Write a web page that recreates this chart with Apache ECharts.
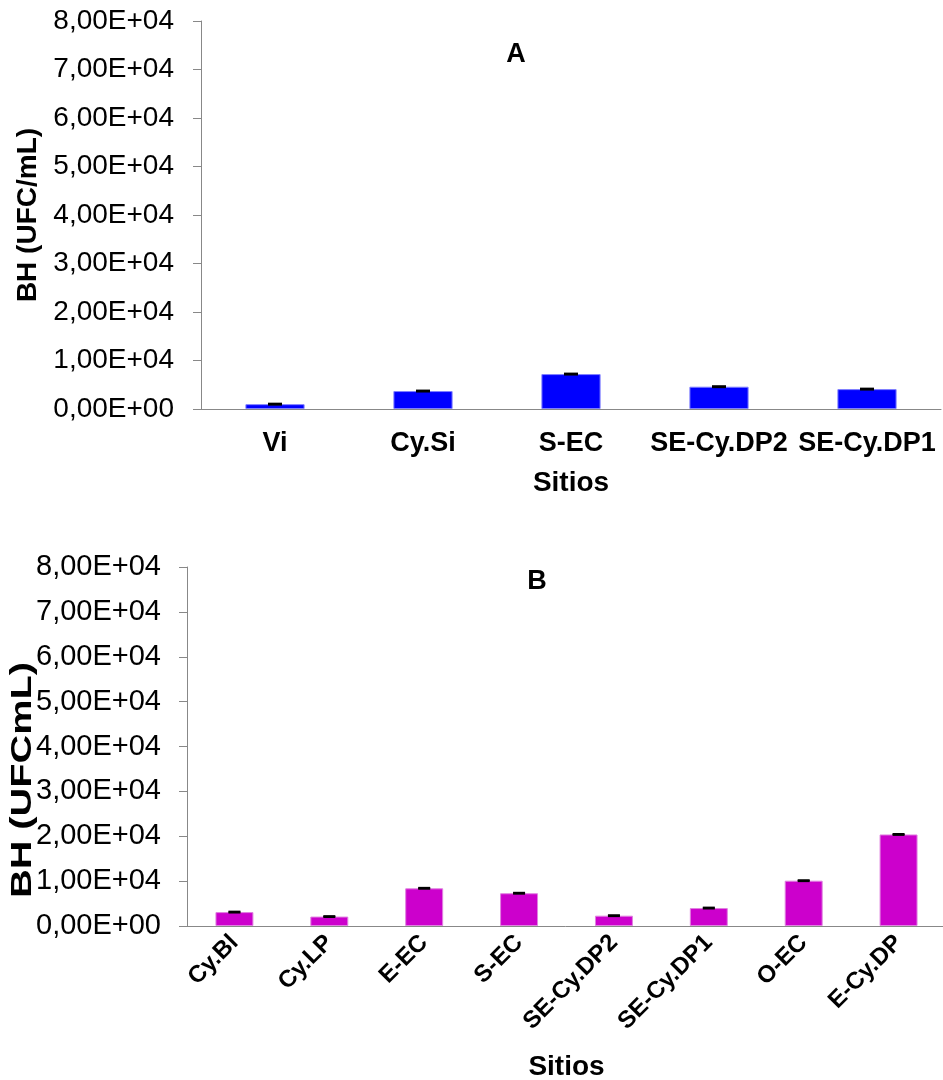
<!DOCTYPE html>
<html>
<head>
<meta charset="utf-8">
<script src="https://cdn.jsdelivr.net/npm/echarts@6/dist/echarts.min.js"></script>
<style>
  html, body { margin: 0; padding: 0; background: #fff; }
  #chart { width: 943px; height: 1080px; }
</style>
</head>
<body>
<div id="chart"></div>
<script>
// Panel A: bacterias heterótrofas por sitio
const sitesA = ['Vi', 'Cy.Si', 'S-EC', 'SE-Cy.DP2', 'SE-Cy.DP1'];
const valuesA = [1000, 3700, 7200, 4600, 4100];
const errorsA = [100, 100, 100, 100, 100];

// Panel B
const sitesB = ['Cy.Bl', 'Cy.LP', 'E-EC', 'S-EC', 'SE-Cy.DP2', 'SE-Cy.DP1', 'O-EC', 'E-Cy.DP'];
const valuesB = [3100, 2100, 8400, 7300, 2300, 4000, 10100, 20400];
const errorsB = [100, 100, 100, 100, 100, 100, 100, 100];

const FONT = '"Liberation Sans", Arial, sans-serif';
const AXIS_GRAY = '#888888';

// 80000 -> "8,00E+04"
function sciComma(v) {
  if (v === 0) return '0,00E+00';
  const exp = Math.floor(Math.log10(Math.abs(v)));
  const mant = (v / Math.pow(10, exp)).toFixed(2).replace('.', ',');
  const sign = exp < 0 ? '-' : '+';
  return mant + 'E' + sign + String(Math.abs(exp)).padStart(2, '0');
}

function errorRender(capHalf) {
  return function (params, api) {
    const x = api.value(0), y = api.value(1), e = api.value(2);
    const hi = api.coord([x, y + e]);
    const lo = api.coord([x, y - e]);
    const st = { stroke: '#000', lineWidth: 2 };
    return {
      type: 'group',
      children: [
        { type: 'line', shape: { x1: hi[0], y1: hi[1], x2: lo[0], y2: lo[1] }, style: st },
        { type: 'line', shape: { x1: hi[0] - capHalf, y1: hi[1], x2: hi[0] + capHalf, y2: hi[1] }, style: st },
        { type: 'line', shape: { x1: lo[0] - capHalf, y1: lo[1], x2: lo[0] + capHalf, y2: lo[1] }, style: st }
      ]
    };
  };
}

function yAxisCfg(gridIndex, fontSize, margin, extra) {
  return Object.assign({
    type: 'value',
    gridIndex: gridIndex,
    min: 0, max: 80000, interval: 10000,
    splitLine: { show: false },
    axisLine: { show: true, lineStyle: { color: AXIS_GRAY, width: 1 } },
    axisTick: { show: true, length: 8, lineStyle: { color: AXIS_GRAY } },
    axisLabel: { formatter: sciComma, color: '#000', fontFamily: FONT, fontSize: fontSize, margin: margin }
  }, extra || {});
}

const chart = echarts.init(document.getElementById('chart'), null, { renderer: 'canvas' });

chart.setOption({
  animation: false,
  backgroundColor: '#fff',
  title: [
    { text: 'A', left: 511, top: 36, textAlign: 'center',
      textStyle: { fontFamily: FONT, fontWeight: 'bold', fontSize: 27, color: '#000' } },
    { text: 'B', left: 532, top: 563, textAlign: 'center',
      textStyle: { fontFamily: FONT, fontWeight: 'bold', fontSize: 27, color: '#000' } }
  ],
  grid: [
    { left: 201, top: 21, width: 740, height: 388, containLabel: false, outerBoundsMode: 'none' },
    { left: 187, top: 567, width: 759, height: 359, containLabel: false, outerBoundsMode: 'none' }
  ],
  xAxis: [
    {
      type: 'category', gridIndex: 0, data: sitesA,
      name: 'Sitios', nameLocation: 'middle', nameGap: 60,
      nameTextStyle: { fontFamily: FONT, fontWeight: 'bold', fontSize: 28, color: '#000' },
      axisLine: { lineStyle: { color: AXIS_GRAY } },
      axisTick: { length: 8, lineStyle: { color: AXIS_GRAY } },
      axisLabel: { fontFamily: FONT, fontWeight: 'bold', fontSize: 27, color: '#000', margin: 21, interval: 0 }
    },
    {
      type: 'category', gridIndex: 1, data: sitesB,
      name: 'Sitios', nameLocation: 'middle', nameGap: 127,
      nameTextStyle: { fontFamily: FONT, fontWeight: 'bold', fontSize: 28, color: '#000' },
      axisLine: { lineStyle: { color: AXIS_GRAY } },
      axisTick: { length: 8, lineStyle: { color: AXIS_GRAY } },
      axisLabel: { fontFamily: FONT, fontWeight: 'bold', fontSize: 24, color: '#000', margin: 13, rotate: 45, interval: 0 }
    }
  ],
  yAxis: [
    yAxisCfg(0, 28, 27, {
      name: 'BH (UFC/mL)', nameLocation: 'middle', nameGap: 159, nameRotate: 90,
      nameTextStyle: { fontFamily: FONT, fontWeight: 'bold', fontSize: 28, color: '#000' }
    }),
    yAxisCfg(1, 29, 26)
  ],
  graphic: [
    { type: 'text', x: 23, y: 780, rotation: Math.PI / 2, scaleX: 1.37,
      style: { text: 'BH (UFCmL)', fontFamily: FONT, fontWeight: 'bold', fontSize: 29, fill: '#000',
               align: 'center', verticalAlign: 'middle' } }
  ],
  series: [
    {
      type: 'bar', xAxisIndex: 0, yAxisIndex: 0, data: valuesA, barWidth: '40%',
      itemStyle: { color: '#0000FF', borderColor: '#8080FF', borderWidth: 1 }
    },
    {
      type: 'custom', xAxisIndex: 0, yAxisIndex: 0,
      renderItem: errorRender(7),
      data: valuesA.map((v, i) => [i, v, errorsA[i]]), z: 5
    },
    {
      type: 'bar', xAxisIndex: 1, yAxisIndex: 1, data: valuesB, barWidth: '40%',
      itemStyle: { color: '#CC00CC', borderColor: '#E080E0', borderWidth: 1 }
    },
    {
      type: 'custom', xAxisIndex: 1, yAxisIndex: 1,
      renderItem: errorRender(6),
      data: valuesB.map((v, i) => [i, v, errorsB[i]]), z: 5
    }
  ]
});
</script>
</body>
</html>
